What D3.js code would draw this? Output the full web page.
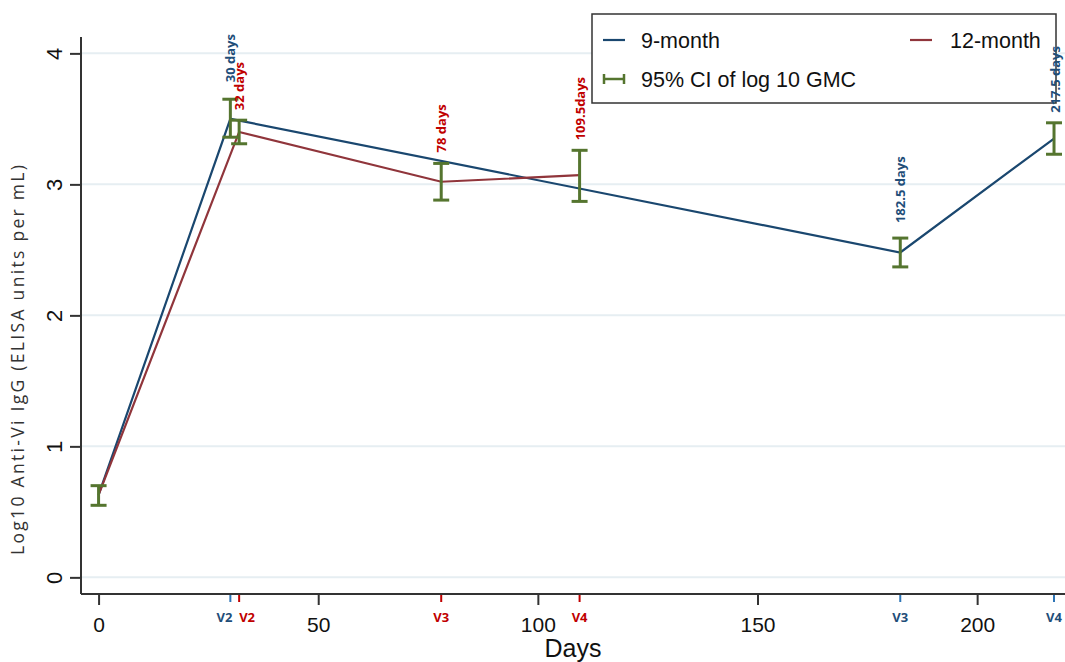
<!DOCTYPE html>
<html lang="en">
<head>
  <meta charset="utf-8">
  <title>Anti-Vi IgG by days</title>
  <script src="https://d3js.org/d3.v7.min.js"></script>
  <style>
    body { margin: 0; background: #fff; }
    svg { display: block; }
  </style>
</head>
<body>
<script>
// 9-month group
var days9 = [0, 30, 182.5, 217.5];
var gmc9 = [0.63, 3.50, 2.48, 3.35];
var lo9 = [0.55, 3.36, 2.37, 3.23];
var hi9 = [0.70, 3.65, 2.59, 3.47];
var notes9 = ["", "30 days", "182.5 days", "217.5 days"];
var visits9 = ["", "V2", "V3", "V4"];

// 12-month group
var days12 = [0, 32, 78, 109.5];
var gmc12 = [0.63, 3.40, 3.02, 3.07];
var lo12 = [0.55, 3.31, 2.88, 2.87];
var hi12 = [0.70, 3.49, 3.16, 3.26];
var notes12 = ["", "32 days", "78 days", "109.5days"];
var visits12 = ["", "V2", "V3", "V4"];

var xTicks = [0, 50, 100, 150, 200];
var yTicks = [0, 1, 2, 3, 4];

// label placement: px above CI top, px sideways shift, anchor of visit label
var gap9 = [0, 17, 15, 10], gap12 = [0, 10, 11, 10];
var shift9 = [0, 0, 0, 1], shift12 = [0, 0, 0, 0];
var anchor9 = ["", "end", "middle", "middle"], anchor12 = ["", "start", "middle", "middle"];

var W = 1065, H = 662;
var blue = "#1a476f", red = "#90353b", green = "#55752f";
var blueTxt = "#1f4e79", redTxt = "#c00000";
var arial = "Liberation Sans, Arial, sans-serif";
var sans = "Open Sans, sans-serif";

var svg = d3.select("body").append("svg").attr("width", W).attr("height", H);

var x = d3.scaleLinear().domain([-4, 220]).range([81, 1065]);
var y = d3.scaleLinear().domain([-0.127, 4.125]).range([594, 37]);

// gridlines
svg.append("g").selectAll("line").data(yTicks).enter().append("line")
  .attr("x1", 82).attr("x2", W)
  .attr("y1", function(d) { return y(d); }).attr("y2", function(d) { return y(d); })
  .attr("stroke", "#e6eef2").attr("stroke-width", 2);

// y axis
var yAxis = svg.append("g").attr("transform", "translate(81,0)")
  .call(d3.axisLeft(y).tickValues(yTicks).tickSize(11).tickPadding(8).tickFormat(d3.format("d")));
yAxis.select(".domain").attr("d", "M0," + y.range()[1] + "V" + y.range()[0])
  .attr("stroke", "#333").attr("stroke-width", 2);
yAxis.selectAll("line").attr("stroke", "#333").attr("stroke-width", 2);
yAxis.selectAll("text")
  .attr("font-family", arial).attr("font-size", 22).attr("fill", "#111")
  .attr("x", null).attr("dy", null)
  .attr("text-anchor", "middle")
  .attr("transform", "translate(-19,0) rotate(-90)");

// x axis
var xAxis = svg.append("g").attr("transform", "translate(0,594)")
  .call(d3.axisBottom(x).tickValues(xTicks).tickSize(11).tickPadding(12).tickFormat(d3.format("d")));
xAxis.select(".domain").attr("d", "M" + x.range()[0] + ",0H" + x.range()[1])
  .attr("stroke", "#333").attr("stroke-width", 2);
xAxis.selectAll("line").attr("stroke", "#333").attr("stroke-width", 2);
xAxis.selectAll("text")
  .attr("font-family", arial).attr("font-size", 21).attr("fill", "#111");

// axis titles
svg.append("text").attr("x", (x.range()[0] + x.range()[1]) / 2).attr("y", 657)
  .attr("text-anchor", "middle").attr("font-family", arial)
  .attr("font-size", 25).attr("fill", "#111").text("Days");
svg.append("text").attr("transform", "translate(24,360) rotate(-90)")
  .attr("text-anchor", "middle").attr("font-family", sans)
  .attr("font-size", 17.5).attr("fill", "#333")
  .attr("textLength", 390).attr("lengthAdjust", "spacing")
  .text("Log10 Anti-Vi IgG (ELISA units per mL)");

function group(days, gmc, lo, hi, notes, visits, gap, shift, anchor, lineCol, txtCol, tickCol) {
  var pts = days.map(function(d, i) {
    return { d: d, m: gmc[i], lo: lo[i], hi: hi[i], note: notes[i], v: visits[i], gap: gap[i], shift: shift[i], anchor: anchor[i] };
  });
  var line = d3.line().x(function(p) { return x(p.d); }).y(function(p) { return y(p.m); });
  svg.append("path").datum(pts).attr("d", line)
    .attr("fill", "none").attr("stroke", lineCol).attr("stroke-width", 2.2);

  // visit ticks + labels on x axis
  var vis = pts.filter(function(p) { return p.v; });
  svg.append("g").selectAll("line").data(vis).enter().append("line")
    .attr("x1", function(p) { return x(p.d); }).attr("x2", function(p) { return x(p.d); })
    .attr("y1", 595).attr("y2", 602).attr("stroke", tickCol).attr("stroke-width", 2);
  svg.append("g").selectAll("text").data(vis).enter().append("text")
    .attr("x", function(p) { return x(p.d) + (p.anchor === "end" ? 2 : 0); })
    .attr("y", 622)
    .attr("text-anchor", function(p) { return p.anchor; })
    .attr("font-family", sans).attr("font-weight", "bold").attr("font-size", 13)
    .attr("fill", txtCol).text(function(p) { return p.v; });

  return pts;
}

function bars(pts) {
  var g = svg.append("g").attr("stroke", green).attr("stroke-width", 3);
  pts.forEach(function(p) {
    var cx = x(p.d);
    g.append("line").attr("x1", cx).attr("x2", cx).attr("y1", y(p.lo)).attr("y2", y(p.hi));
    g.append("line").attr("x1", cx - 8).attr("x2", cx + 8).attr("y1", y(p.lo)).attr("y2", y(p.lo));
    g.append("line").attr("x1", cx - 8).attr("x2", cx + 8).attr("y1", y(p.hi)).attr("y2", y(p.hi));
  });
}

function notes(pts, col) {
  svg.append("g").selectAll("text").data(pts.filter(function(p) { return p.note; })).enter().append("text")
    .attr("transform", function(p) {
      return "translate(" + (x(p.d) + 5 + p.shift) + "," + (y(p.hi) - p.gap) + ") rotate(-90)";
    })
    .attr("font-family", sans).attr("font-weight", "bold").attr("font-size", 13)
    .attr("fill", col).text(function(p) { return p.note; });
}

// legend box first, so the right-edge label stays visible beside it
var lg = svg.append("g");
lg.append("rect").attr("x", 592).attr("y", 14).attr("width", 464).attr("height", 89)
  .attr("fill", "#fff").attr("stroke", "#333").attr("stroke-width", 1.5);
lg.append("line").attr("x1", 603).attr("x2", 625).attr("y1", 40).attr("y2", 40).attr("stroke", blue).attr("stroke-width", 2.2);
lg.append("text").attr("x", 641).attr("y", 48).attr("font-family", arial).attr("font-size", 21.5).attr("fill", "#111").text("9-month");
lg.append("line").attr("x1", 910).attr("x2", 932).attr("y1", 40).attr("y2", 40).attr("stroke", red).attr("stroke-width", 2.2);
lg.append("text").attr("x", 950).attr("y", 48).attr("font-family", arial).attr("font-size", 21.5).attr("fill", "#111").text("12-month");
var cg = lg.append("g").attr("stroke", green).attr("stroke-width", 2.5);
cg.append("line").attr("x1", 604).attr("x2", 624).attr("y1", 79).attr("y2", 79);
cg.append("line").attr("x1", 604).attr("x2", 604).attr("y1", 74).attr("y2", 84);
cg.append("line").attr("x1", 624).attr("x2", 624).attr("y1", 74).attr("y2", 84);
lg.append("text").attr("x", 641).attr("y", 87).attr("font-family", arial).attr("font-size", 21.5).attr("fill", "#111").text("95% CI of log 10 GMC");

var p9 = group(days9, gmc9, lo9, hi9, notes9, visits9, gap9, shift9, anchor9, blue, blueTxt, "#2e75b6");
var p12 = group(days12, gmc12, lo12, hi12, notes12, visits12, gap12, shift12, anchor12, red, redTxt, redTxt);
bars(p9.slice(1));
bars(p12);
notes(p9, blueTxt);
notes(p12, redTxt);
</script>
</body>
</html>
